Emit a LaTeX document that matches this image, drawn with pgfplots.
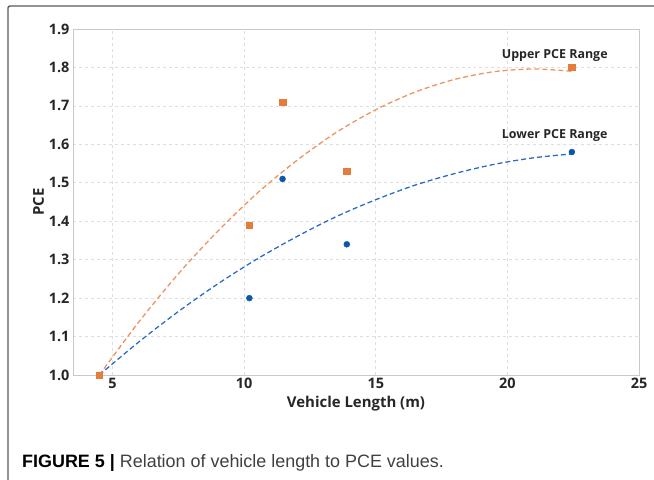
\documentclass[border=0pt]{standalone}
\usepackage{pgfplots}
\pgfplotsset{compat=1.18}
\usepackage{fontspec}
\setmainfont{Open Sans}
\newfontfamily\capfont{Liberation Sans}

\definecolor{upsq}{HTML}{E47C3A}
\definecolor{upln}{HTML}{EE9460}
\definecolor{lodot}{HTML}{0B57A8}
\definecolor{loln}{HTML}{2C6CC6}
\definecolor{gridc}{HTML}{DEDEDE}
\definecolor{framec}{HTML}{C9C9C9}

\begin{document}
\begin{tikzpicture}
\useasboundingbox (0,0) rectangle (654bp,480bp);
% outer box (only top and left edges visible)
\draw[line width=1.4bp, color=black!65, rounded corners=2bp] (660bp,474bp) -- (8bp,474bp) -- (8bp,-10bp);

\begin{axis}[
  at={(73bp,105bp)}, anchor=south west,
  scale only axis, width=566bp, height=346bp,
  xmin=3.5, xmax=25, ymin=1.0, ymax=1.9,
  xtick={5,10,15,20,25},
  ytick={1.0,1.1,...,1.9},
  yticklabel style={/pgf/number format/.cd, fixed, fixed zerofill, precision=1},
  /pgf/number format/assume math mode=true,
  tick label style={font=\fontsize{14.5}{16}\selectfont\bfseries, color=black!85},
  major tick length=0pt,
  axis line style={framec, line width=0.9bp},
  grid=major,
  major grid style={gridc, dashed, line width=0.6bp},
  xlabel={Vehicle Length (m)},
  ylabel={PCE},
  label style={font=\fontsize{15}{17}\selectfont\bfseries, color=black!85},
  xlabel style={yshift=0bp},
  ylabel style={yshift=-2bp},
  clip=false,
]
% quadratic trend, upper range
\addplot[upln, dash pattern=on 5bp off 3bp, line width=1.3bp, smooth] coordinates {
 (4.5,1.000) (6,1.138) (7.5,1.263) (9,1.374) (10.5,1.473) (12,1.558)
 (13.5,1.631) (15,1.690) (16.5,1.736) (18,1.769) (19.5,1.789) (21,1.796) (22.45,1.790)};
% quadratic trend, lower range
\addplot[loln, dash pattern=on 5bp off 3bp, line width=1.3bp, smooth] coordinates {
 (4.5,1.000) (6,1.086) (7.5,1.165) (9,1.237) (10.5,1.302) (12,1.360)
 (13.5,1.412) (15,1.456) (16.5,1.494) (18,1.524) (19.5,1.548) (21,1.565) (22.45,1.575)};
% lower PCE points
\addplot[only marks, mark=*, mark size=3bp, lodot, mark options={fill=lodot, draw=lodot}] coordinates {
 (4.5,1.00) (10.2,1.20) (11.46,1.51) (13.9,1.34) (22.45,1.58)};
% upper PCE points
\addplot[only marks, mark=square*, mark size=3.2bp, upsq, mark options={fill=upsq, draw=upsq}] coordinates {
 (4.5,1.00) (10.2,1.39) (11.46,1.71) (13.9,1.53) (22.45,1.80)};

\node[font=\fontsize{12.5}{14}\selectfont\bfseries, color=black!85] at (axis cs:21.8,1.832) {Upper PCE Range};
\node[font=\fontsize{12.5}{14}\selectfont\bfseries, color=black!85] at (axis cs:21.8,1.622) {Lower PCE Range};
\end{axis}

\node[anchor=base west, inner sep=0pt, font=\capfont\fontsize{18}{20}\selectfont] at (22bp,13bp)
  {\textbf{FIGURE 5 |} \textcolor{black!75}{Relation of vehicle length to PCE values.}};
\end{tikzpicture}
\end{document}
